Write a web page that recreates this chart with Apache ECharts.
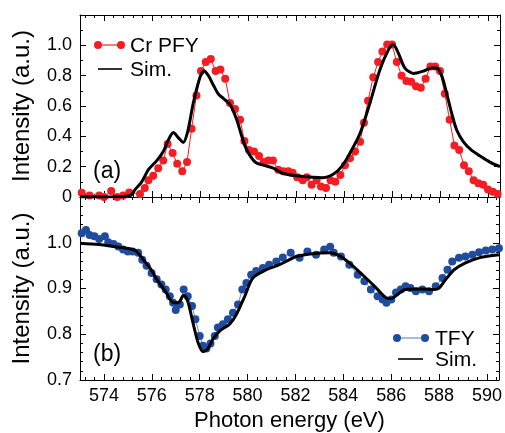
<!DOCTYPE html>
<html>
<head>
<meta charset="utf-8">
<script src="https://cdn.jsdelivr.net/npm/echarts@6/dist/echarts.min.js"></script>
<style>
html,body{margin:0;padding:0;background:#fff;}
#chart{width:505px;height:433px;}
</style>
</head>
<body>
<div id="chart"></div>
<script>
// ---- Panel (a): Cr PFY data ----
var pfyE = [573.07,573.4,573.8,574.0,574.3,574.55,574.8,575.05,575.5,575.7,575.85,576.05,576.26,576.47,576.65,576.86,577.05,577.26,577.46,577.65,577.85,578.04,578.24,578.45,578.65,578.85,579.05,579.25,579.46,579.67,579.85,580.04,580.25,580.46,580.65,580.85,581.04,581.26,581.47,581.68,581.86,582.05,582.28,582.45,582.65,582.86,583.04,583.25,583.44,583.64,583.85,584.04,584.25,584.46,584.67,584.83,585.0,585.22,585.42,585.6,585.8,586.0,586.2,586.4,586.6,586.8,587.0,587.2,587.4,587.6,587.8,588.0,588.2,588.4,588.6,588.8,589.0,589.2,589.4,589.6,589.8,590.0,590.2,590.4];
var pfyV = [0.028,0.01,0.01,0.0,0.04,0.0,0.01,0.03,0.02,0.06,0.11,0.14,0.19,0.24,0.35,0.29,0.22,0.17,0.23,0.45,0.67,0.83,0.89,0.91,0.83,0.84,0.78,0.62,0.58,0.51,0.37,0.31,0.30,0.27,0.23,0.24,0.24,0.18,0.17,0.17,0.16,0.13,0.11,0.13,0.08,0.11,0.07,0.06,0.11,0.10,0.145,0.21,0.255,0.30,0.365,0.49,0.635,0.79,0.89,0.96,1.005,1.005,0.89,0.80,0.765,0.76,0.73,0.72,0.78,0.86,0.86,0.83,0.68,0.51,0.34,0.31,0.21,0.17,0.11,0.09,0.08,0.05,0.035,0.02];
// ---- Panel (a): simulation ----
var simAE = [573.0,573.5,574.0,574.5,575.1,575.3,575.57,575.85,576.2,576.47,576.68,576.89,577.1,577.3,577.5,577.72,578.0,578.17,578.35,578.55,578.76,578.97,579.25,579.53,579.74,579.95,580.3,580.64,581.05,581.47,582.0,582.7,583.1,583.55,583.9,584.25,584.67,585.08,585.5,585.85,586.05,586.26,586.54,586.9,587.3,587.65,587.86,588.07,588.28,588.49,588.7,588.97,589.3,589.67,590.08,590.5];
var simAV = [0.0,0.0,0.0,0.002,0.01,0.05,0.10,0.18,0.24,0.30,0.375,0.425,0.39,0.36,0.44,0.62,0.79,0.83,0.80,0.74,0.68,0.65,0.61,0.51,0.40,0.31,0.23,0.21,0.19,0.155,0.14,0.13,0.127,0.15,0.20,0.29,0.42,0.62,0.84,0.97,1.005,0.95,0.85,0.815,0.83,0.85,0.85,0.80,0.68,0.55,0.44,0.365,0.31,0.27,0.23,0.20];
// ---- Panel (b): TFY data ----
var tfyE = [573.07,573.25,573.4,573.6,573.8,574.04,574.18,574.4,574.6,574.8,575.0,575.2,575.43,575.6,575.78,575.99,576.2,576.4,576.58,576.75,576.89,577.0,577.17,577.33,577.5,577.68,577.82,578.0,578.14,578.28,578.45,578.63,578.76,578.97,579.18,579.39,579.6,579.78,579.95,580.15,580.36,580.64,580.9,581.2,581.47,581.8,582.17,582.5,582.86,583.2,583.45,583.6,583.9,584.25,584.6,584.88,585.15,585.43,585.64,585.8,586.0,586.2,586.4,586.6,586.8,587.03,587.3,587.58,587.86,588.14,588.35,588.55,588.83,589.1,589.39,589.67,589.95,590.22,590.5];
var tfyV = [1.021,1.028,1.017,1.014,1.008,1.014,1.001,0.997,0.992,0.985,0.981,0.981,0.978,0.963,0.95,0.934,0.92,0.909,0.898,0.883,0.869,0.853,0.865,0.898,0.883,0.862,0.833,0.796,0.775,0.769,0.78,0.796,0.815,0.822,0.833,0.847,0.865,0.898,0.912,0.93,0.938,0.945,0.952,0.959,0.968,0.978,0.967,0.981,0.974,0.985,0.991,0.978,0.970,0.952,0.930,0.916,0.898,0.883,0.876,0.869,0.876,0.891,0.898,0.905,0.901,0.894,0.898,0.894,0.905,0.923,0.941,0.959,0.967,0.970,0.974,0.979,0.983,0.985,0.988];
// ---- Panel (b): simulation ----
var simBE = [573.0,573.8,574.5,575.08,575.36,575.64,575.92,576.26,576.6,576.9,577.1,577.33,577.5,577.72,577.93,578.14,578.35,578.55,578.83,579.25,579.53,579.88,580.22,580.78,581.33,581.75,582.03,582.72,583.42,583.83,584.25,584.8,585.36,585.78,586.0,586.26,586.6,587.17,587.8,588.0,588.28,588.63,589.1,589.67,590.22,590.5];
var simBV = [0.999,0.996,0.991,0.987,0.981,0.963,0.945,0.916,0.891,0.869,0.869,0.885,0.872,0.825,0.782,0.762,0.769,0.789,0.807,0.822,0.843,0.883,0.923,0.941,0.952,0.963,0.970,0.976,0.978,0.972,0.956,0.930,0.902,0.880,0.878,0.887,0.898,0.899,0.898,0.901,0.920,0.941,0.956,0.967,0.972,0.974];

var xMin = 573, xMax = 590.5;
var yTopTicks = [0, 1.2, 0.2];
var yBotTicks = [0.7, 1.1, 0.1];

function pairs(xs, ys){ return xs.map(function(x,i){ return [x, ys[i]]; }); }

var FONT = '"Liberation Sans", Arial, sans-serif';
var RED = '#f51d24', BLUE = '#1f4c9e', BLUELINE = '#6f8fc8';

function xAx(grid, pos, labels){
  var a = {
    gridIndex: grid, type: 'value', position: pos, min: xMin, max: xMax, splitNumber: 8,
    axisLine: { onZero: false, lineStyle: { color: '#000', width: 1 } },
    axisTick: { inside: true, length: 6, lineStyle: { color: '#000' } },
    minorTick: { show: true, splitNumber: 5, length: 3, lineStyle: { color: '#000' } },
    splitLine: { show: false },
    axisLabel: { show: labels, showMinLabel: false, showMaxLabel: false, color: '#000', fontSize: 18, fontFamily: FONT, margin: 7 }
  };
  if (labels) {
    a.name = 'Photon energy (eV)';
    a.nameLocation = 'middle';
    a.nameGap = 30;
    a.nameTextStyle = { color: '#000', fontSize: 22, fontFamily: FONT };
  }
  return a;
}
function yAx(grid, pos, t, minor, labels, fmt){
  var a = {
    gridIndex: grid, type: 'value', position: pos, min: t[0], max: t[1], interval: t[2],
    axisLine: { onZero: false, lineStyle: { color: '#000', width: 1 } },
    axisTick: { inside: true, length: 6, lineStyle: { color: '#000' } },
    minorTick: { show: true, splitNumber: minor, length: 3, lineStyle: { color: '#000' } },
    splitLine: { show: false },
    axisLabel: { show: labels, showMaxLabel: false, color: '#000', fontSize: 18, fontFamily: FONT, margin: 8, formatter: fmt }
  };
  if (labels) {
    a.name = 'Intensity (a.u.)';
    a.nameLocation = 'middle';
    a.nameGap = 46;
    a.nameTextStyle = { color: '#000', fontSize: 24, fontFamily: FONT };
  }
  return a;
}
var fmtTop = function(v){ return Math.abs(v) < 1e-9 ? '0' : v.toFixed(1); };
var fmtBot = function(v){ return v.toFixed(1); };

// legend key drawing helpers (decoration only)
function dotKey(x1, x2, y, dotColor, lineColor){
  return [
    { type: 'line', shape: { x1: x1, y1: y, x2: x2, y2: y }, style: { stroke: lineColor, lineWidth: 1.2 } },
    { type: 'circle', shape: { cx: x1, cy: y, r: 4 }, style: { fill: dotColor } },
    { type: 'circle', shape: { cx: x2, cy: y, r: 4 }, style: { fill: dotColor } }
  ];
}
function lineKey(x1, x2, y){
  return [ { type: 'line', shape: { x1: x1, y1: y, x2: x2, y2: y }, style: { stroke: '#333', lineWidth: 2 } } ];
}
function keyText(x, y, s){
  return { type: 'text', x: x, y: y, style: { text: s, fill: '#000', fontSize: 21, fontFamily: FONT, verticalAlign: 'middle', align: 'left' } };
}

var graphics = [].concat(
  dotKey(98, 121, 45, RED, RED), [keyText(130, 46, 'Cr PFY')],
  lineKey(98, 122, 69), [keyText(130, 70, 'Sim.')],
  dotKey(397, 425, 338, BLUE, BLUELINE), [keyText(435, 339, 'TFY')],
  lineKey(398, 423, 359), [keyText(435, 360, 'Sim.')],
  [
    { type: 'text', left: 93, top: 160, style: { text: '(a)', fill: '#000', fontSize: 23, fontFamily: FONT } },
    { type: 'text', left: 93, top: 343, style: { text: '(b)', fill: '#000', fontSize: 23, fontFamily: FONT } }
  ]
);

var chart = echarts.init(document.getElementById('chart'), null, { renderer: 'canvas' });
chart.setOption({
  animation: false,
  backgroundColor: '#fff',
  grid: [
    { left: 80, right: 5, top: 15, height: 182 },
    { left: 80, right: 5, top: 197, height: 184 }
  ],
  xAxis: [ xAx(0,'bottom',false), xAx(0,'top',false), xAx(1,'bottom',true), xAx(1,'top',false) ],
  yAxis: [ yAx(0,'left',yTopTicks,2,true,fmtTop), yAx(0,'right',yTopTicks,2,false,fmtTop),
           yAx(1,'left',yBotTicks,5,true,fmtBot), yAx(1,'right',yBotTicks,5,false,fmtBot) ],
  graphic: graphics,
  series: [
    { name: 'Cr PFY', type: 'line', xAxisIndex: 0, yAxisIndex: 0, data: pairs(pfyE, pfyV),
      symbol: 'circle', symbolSize: 8, itemStyle: { color: RED },
      lineStyle: { color: RED, width: 1 }, z: 2 },
    { name: 'Sim.', type: 'line', xAxisIndex: 0, yAxisIndex: 0, data: pairs(simAE, simAV),
      symbol: 'none', smooth: 0.3, itemStyle: { color: '#000' },
      lineStyle: { color: '#000', width: 3 }, z: 3 },
    { name: 'TFY', type: 'line', xAxisIndex: 2, yAxisIndex: 2, data: pairs(tfyE, tfyV),
      symbol: 'circle', symbolSize: 8, itemStyle: { color: BLUE },
      lineStyle: { color: BLUELINE, width: 1 }, z: 2 },
    { name: 'Sim. (b)', type: 'line', xAxisIndex: 2, yAxisIndex: 2, data: pairs(simBE, simBV),
      symbol: 'none', smooth: 0.3, itemStyle: { color: '#000' },
      lineStyle: { color: '#000', width: 3 }, z: 3 }
  ]
});
</script>
</body>
</html>
